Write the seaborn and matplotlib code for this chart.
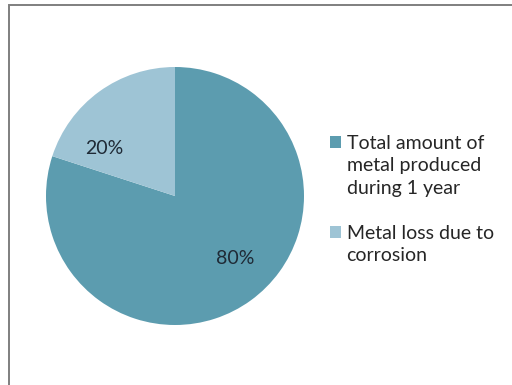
import matplotlib
matplotlib.use("Agg")
import matplotlib.pyplot as plt
import matplotlib.patches as mpatches
import seaborn as sns
import numpy as np

categories = ["Total amount of\nmetal produced\nduring 1 year", "Metal loss due to\ncorrosion"]
values = [80, 20]
colors = ["#5C9CAF", "#9EC4D5"]
pct_labels = ["80%", "20%"]
# label placement (angle in degrees, fraction of radius)
label_angles = [-46, 146]
label_dist = [0.67, 0.66]

sns.set_theme(style="white")
plt.rcParams['font.family'] = ['Lato', 'DejaVu Sans']

W, H = 512, 385
fig = plt.figure(figsize=(W / 100, H / 100), dpi=100)
fig.patch.set_facecolor("white")

# outer border
fig.add_artist(mpatches.Rectangle((9 / W, -0.05), 1.1, 1 - 5 / H + 0.05,
                                  transform=fig.transFigure, fill=False,
                                  edgecolor="#7f7f7f", linewidth=1.4))

ax = fig.add_axes([46 / W, (H - 325) / H, 258 / W, 258 / H])
wedges, texts = ax.pie(values, colors=colors, startangle=90, counterclock=False,
                       radius=1.0, wedgeprops=dict(linewidth=0))
for lab, ang, d in zip(pct_labels, label_angles, label_dist):
    a = np.deg2rad(ang)
    ax.text(d * np.cos(a), d * np.sin(a), lab, ha="center", va="center",
            fontsize=14, color="#1f2a36")
ax.set_xlim(-1, 1)
ax.set_ylim(-1, 1)
ax.set_aspect("auto")
ax.axis("off")

# legend: marker aligned with first line of each entry
handles, labels = [], []
for i, (cat, col) in enumerate(zip(categories, colors)):
    lines = cat.split("\n")
    for j, ln in enumerate(lines):
        if j == 0:
            handles.append(mpatches.Patch(facecolor=col, edgecolor="none"))
        else:
            handles.append(mpatches.Patch(facecolor="none", edgecolor="none"))
        labels.append(ln)
    if i < len(categories) - 1:
        handles.append(mpatches.Patch(facecolor="none", edgecolor="none"))
        labels.append(" ")

fig.legend(handles, labels, loc="upper left", bbox_to_anchor=(330 / W, 1 - 135 / H),
           frameon=False, fontsize=14, handlelength=0.55, handleheight=0.55,
           handletextpad=0.3, labelspacing=0.28, borderpad=0, borderaxespad=0,
           labelcolor="#262626")

fig.savefig("out.png", dpi=100)
